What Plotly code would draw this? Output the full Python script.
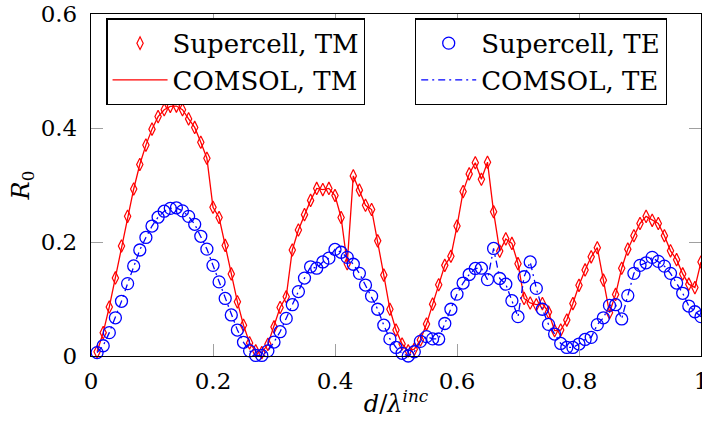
import plotly.graph_objects as go

x_vals = [round(0.01 * i, 2) for i in range(1, 101)]

tm_supercell = [
    0.0075, 0.041, 0.086, 0.137, 0.193, 0.245, 0.293, 0.336, 0.370, 0.398,
    0.420, 0.432, 0.438, 0.4385, 0.432, 0.416, 0.401, 0.375, 0.347, 0.261,
    0.243, 0.194, 0.144, 0.095, 0.054, 0.023, 0.009, 0.006, 0.0205, 0.051,
    0.085, 0.104, 0.186, 0.221, 0.248, 0.273, 0.294, 0.292, 0.294, 0.2815,
    0.243, 0.162, 0.316, 0.291, 0.2645, 0.257, 0.202, 0.142, 0.082, 0.0455,
    0.021, 0.009, 0.012, 0.028, 0.056, 0.091, 0.125, 0.159, 0.175, 0.228,
    0.2885, 0.3195, 0.339, 0.310, 0.340, 0.253, 0.184, 0.2055, 0.1975, 0.162,
    0.101, 0.093, 0.090, 0.092, 0.077, 0.0445, 0.0455, 0.063, 0.092, 0.124,
    0.151, 0.174, 0.190, 0.133, 0.076, 0.108, 0.154, 0.1875, 0.211, 0.2325,
    0.245, 0.238, 0.2325, 0.211, 0.1845, 0.169, 0.144, 0.126, 0.120, 0.165,
]
tm_comsol = list(tm_supercell)

te_supercell = [
    0.006, 0.018, 0.041, 0.067, 0.096, 0.127, 0.158, 0.186, 0.208, 0.228,
    0.2435, 0.254, 0.259, 0.260, 0.2546, 0.245, 0.231, 0.210, 0.1875, 0.159,
    0.130, 0.101, 0.072, 0.0455, 0.024, 0.009, 0.001, 0.001, 0.009, 0.0245,
    0.0426, 0.066, 0.090, 0.113, 0.1367, 0.1565, 0.154, 0.165, 0.1717, 0.187,
    0.182, 0.173, 0.161, 0.145, 0.1245, 0.105, 0.082, 0.054, 0.030, 0.015,
    0.0047, 0.000, 0.0075, 0.0257, 0.034, 0.030, 0.0298, 0.057, 0.082, 0.1086,
    0.128, 0.143, 0.1536, 0.154, 0.134, 0.1887, 0.136, 0.126, 0.097, 0.069,
    0.139, 0.165, 0.1186, 0.082, 0.0555, 0.0385, 0.022, 0.015, 0.015, 0.021,
    0.029, 0.0327, 0.055, 0.067, 0.0888, 0.090, 0.065, 0.106, 0.145, 0.159,
    0.1635, 0.173, 0.166, 0.1577, 0.145, 0.128, 0.110, 0.0876, 0.0776, 0.069,
]
te_comsol = list(te_supercell)

x_ticks = [0, 0.2, 0.4, 0.6, 0.8, 1]
x_tick_labels = ["0", "0.2", "0.4", "0.6", "0.8", "1"]
y_ticks = [0, 0.2, 0.4, 0.6]
y_tick_labels = ["0", "0.2", "0.4", "0.6"]

FONT = "'DejaVu Serif', serif"
RED = "#ff0000"
BLUE = "#0000ff"

fig = go.Figure()
fig.add_trace(go.Scatter(
    x=x_vals, y=tm_comsol, mode="lines", name="COMSOL, TM",
    line=dict(color=RED, width=1.3), legend="legend", legendrank=2,
    cliponaxis=False,
))
fig.add_trace(go.Scatter(
    x=x_vals, y=tm_supercell, mode="markers", name="Supercell, TM",
    marker=dict(symbol="diamond-tall-open", size=9, color=RED, line=dict(width=1.2, color=RED)),
    legend="legend", legendrank=1, cliponaxis=False,
))
fig.add_trace(go.Scatter(
    x=x_vals, y=te_comsol, mode="lines", name="COMSOL, TE",
    line=dict(color=BLUE, width=1.3, dash="7px,4px,2px,4px"), legend="legend2", legendrank=2,
    cliponaxis=False,
))
fig.add_trace(go.Scatter(
    x=x_vals, y=te_supercell, mode="markers", name="Supercell, TE",
    marker=dict(symbol="circle-open", size=12, color=BLUE, line=dict(width=1.3, color=BLUE)),
    legend="legend2", legendrank=1, cliponaxis=False,
))

axis_common = dict(
    showgrid=False, zeroline=False, showline=True, linecolor="black", linewidth=1.3,
    mirror="allticks", ticks="inside", ticklen=12, tickcolor="#a0a0a0", tickwidth=1,
    tickfont=dict(family=FONT, size=23, color="black"),
    ticklabeloverflow="allow", automargin=False,
)

legend_common = dict(
    xanchor="left", yanchor="top", bgcolor="white",
    bordercolor="black", borderwidth=1.3, font=dict(family=FONT, size=26, color="black"),
    traceorder="normal", tracegroupgap=0, itemwidth=55,
)

fig.update_layout(
    width=702, height=421,
    margin=dict(l=91, r=1, t=14, b=65, autoexpand=False),
    paper_bgcolor="white", plot_bgcolor="white",
    xaxis=dict(range=[0, 1], tickvals=x_ticks, ticktext=x_tick_labels, ticklabelstandoff=4,
               title=dict(text="<i>d</i>/<i>λ</i><sup><i>inc</i></sup>", font=dict(family=FONT, size=24, color="black"), standoff=2),
               **axis_common),
    yaxis=dict(range=[0, 0.6], tickvals=y_ticks, ticktext=y_tick_labels, ticklabelstandoff=8,
               title=dict(text="<i>R</i><sub>0</sub>", font=dict(family=FONT, size=24, color="black"), standoff=4),
               **axis_common),
    legend=dict(x=0.025, y=0.987, **legend_common),
    legend2=dict(x=0.531, y=0.987, **legend_common),
    showlegend=True,
)

fig.write_html("out.html")
